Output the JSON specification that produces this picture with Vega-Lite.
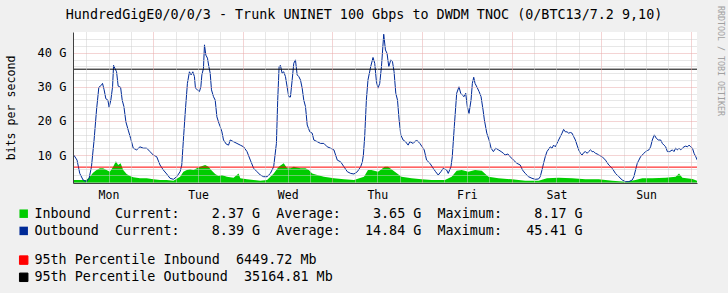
{
"$schema": "https://vega.github.io/schema/vega-lite/v6.json",
"width": 624, "height": 151,
"autosize": {"type": "none"},
"padding": {"left": 73, "top": 32, "right": 31, "bottom": 110},
"background": "#f0f0f0",
"view": {"fill": "#ffffff", "stroke": null},
"title": {"text": "HundredGigE0/0/0/3 - Trunk UNINET 100 Gbps to DWDM TNOC (0/BTC13/7.2 9,10)", "font": "DejaVu Sans Mono", "fontSize": 13.4, "fontWeight": "normal", "color": "#000000", "anchor": "middle", "frame": "group", "dx": -21, "offset": -26.6, "baseline": "alphabetic"},
"datasets": {
"inbound": [{"h":2.42,"v":2.67},{"h":4.30,"v":2.67},{"h":6.10,"v":2.67},{"h":6.99,"v":3.64},{"h":7.87,"v":4.81},{"h":8.79,"v":5.6},{"h":9.68,"v":6.1},{"h":10.56,"v":6.1},{"h":11.47,"v":5.6},{"h":12.36,"v":5.1},{"h":13.25,"v":6.57},{"h":13.98,"v":8.17},{"h":14.59,"v":7.07},{"h":15.24,"v":7.57},{"h":15.94,"v":5.6},{"h":16.85,"v":4.43},{"h":17.74,"v":3.84},{"h":18.63,"v":3.45},{"h":20.43,"v":3.17},{"h":22.23,"v":3.17},{"h":24.00,"v":2.87},{"h":25.80,"v":2.67},{"h":27.60,"v":2.67},{"h":29.38,"v":2.47},{"h":31.18,"v":3.64},{"h":32.06,"v":5.1},{"h":32.98,"v":5.6},{"h":33.86,"v":5.8},{"h":34.75,"v":5.6},{"h":35.66,"v":6.1},{"h":36.55,"v":6.57},{"h":37.90,"v":7.07},{"h":38.78,"v":6.57},{"h":39.70,"v":5.4},{"h":40.58,"v":4.43},{"h":41.47,"v":3.84},{"h":42.38,"v":4.13},{"h":43.73,"v":3.64},{"h":45.50,"v":3.35},{"h":46.85,"v":4.6},{"h":47.30,"v":3.17},{"h":49.10,"v":2.87},{"h":50.88,"v":2.67},{"h":52.68,"v":2.47},{"h":54.48,"v":2.67},{"h":56.25,"v":4.6},{"h":57.60,"v":6.57},{"h":58.94,"v":7.57},{"h":59.85,"v":6.1},{"h":60.74,"v":6.1},{"h":61.63,"v":6.57},{"h":63.43,"v":6.1},{"h":64.77,"v":6.1},{"h":65.66,"v":5.6},{"h":66.57,"v":4.6},{"h":67.92,"v":4.13},{"h":69.69,"v":3.64},{"h":72.38,"v":3.17},{"h":75.06,"v":2.87},{"h":77.75,"v":2.67},{"h":80.44,"v":3.64},{"h":81.51,"v":5.6},{"h":82.43,"v":5.6},{"h":84.20,"v":5.1},{"h":86.00,"v":6.57},{"h":86.89,"v":6.57},{"h":88.69,"v":5.1},{"h":90.49,"v":3.64},{"h":93.18,"v":3.17},{"h":95.87,"v":2.87},{"h":98.56,"v":2.67},{"h":102.13,"v":2.67},{"h":103.93,"v":3.64},{"h":105.27,"v":5.4},{"h":106.62,"v":5.6},{"h":108.39,"v":5.1},{"h":110.19,"v":5.6},{"h":111.99,"v":5.4},{"h":113.77,"v":3.64},{"h":116.45,"v":3.17},{"h":120.05,"v":2.87},{"h":123.63,"v":2.47},{"h":127.21,"v":2.47},{"h":129.46,"v":3.17},{"h":132.58,"v":3.35},{"h":136.18,"v":3.17},{"h":139.76,"v":2.87},{"h":143.33,"v":2.87},{"h":146.93,"v":2.47},{"h":150.51,"v":2.18},{"h":153.19,"v":2.67},{"h":154.99,"v":3.17},{"h":157.68,"v":3.17},{"h":161.26,"v":3.35},{"h":163.94,"v":3.64},{"h":164.83,"v":4.6},{"h":165.74,"v":3.35},{"h":168.43,"v":2.97},{"h":169.77,"v":2.37}],
"outbound": [{"h":2.42,"v":10.5},{"h":3.57,"v":8.5},{"h":4.30,"v":4.6},{"h":5.19,"v":2.67},{"h":6.10,"v":2.18},{"h":6.80,"v":3.17},{"h":7.44,"v":6.57},{"h":8.14,"v":14.4},{"h":8.79,"v":23.2},{"h":9.41,"v":29.85},{"h":10.13,"v":30.5},{"h":10.40,"v":31.0},{"h":10.83,"v":29.1},{"h":11.29,"v":26.5},{"h":11.83,"v":26.1},{"h":12.17,"v":24.0},{"h":12.63,"v":26.1},{"h":13.09,"v":30.0},{"h":13.36,"v":36.3},{"h":13.71,"v":35.4},{"h":14.16,"v":34.4},{"h":14.59,"v":30.2},{"h":15.24,"v":29.85},{"h":15.67,"v":26.1},{"h":16.13,"v":24.2},{"h":16.66,"v":19.7},{"h":17.28,"v":17.3},{"h":17.93,"v":14.9},{"h":18.63,"v":12.0},{"h":19.54,"v":11.5},{"h":20.43,"v":12.4},{"h":21.31,"v":12.0},{"h":22.23,"v":12.0},{"h":23.11,"v":11.0},{"h":24.00,"v":10.0},{"h":24.91,"v":9.5},{"h":25.80,"v":7.07},{"h":26.69,"v":5.6},{"h":27.60,"v":4.43},{"h":28.49,"v":3.17},{"h":29.38,"v":2.87},{"h":30.29,"v":3.64},{"h":31.18,"v":5.1},{"h":31.63,"v":7.07},{"h":32.06,"v":14.4},{"h":32.60,"v":23.2},{"h":33.14,"v":31.0},{"h":33.68,"v":34.4},{"h":34.13,"v":33.5},{"h":34.59,"v":34.4},{"h":35.02,"v":33.0},{"h":35.29,"v":29.6},{"h":35.83,"v":29.1},{"h":36.36,"v":28.6},{"h":36.74,"v":30.0},{"h":37.01,"v":33.5},{"h":37.44,"v":35.4},{"h":37.71,"v":42.3},{"h":38.08,"v":39.3},{"h":38.51,"v":38.4},{"h":38.89,"v":35.9},{"h":39.24,"v":34.0},{"h":39.59,"v":29.1},{"h":40.13,"v":27.1},{"h":40.58,"v":26.1},{"h":41.04,"v":21.2},{"h":41.58,"v":19.3},{"h":41.93,"v":18.3},{"h":42.38,"v":16.8},{"h":42.81,"v":14.4},{"h":43.54,"v":13.2},{"h":44.16,"v":12.9},{"h":44.61,"v":14.4},{"h":45.50,"v":13.9},{"h":46.41,"v":13.4},{"h":47.30,"v":12.9},{"h":48.19,"v":12.4},{"h":49.10,"v":11.0},{"h":49.99,"v":8.5},{"h":50.88,"v":6.1},{"h":51.79,"v":5.1},{"h":52.68,"v":4.13},{"h":53.56,"v":3.64},{"h":54.48,"v":3.64},{"h":55.36,"v":4.6},{"h":56.25,"v":6.57},{"h":56.98,"v":13.4},{"h":57.33,"v":26.1},{"h":57.70,"v":35.9},{"h":58.05,"v":36.3},{"h":58.51,"v":34.0},{"h":58.94,"v":34.4},{"h":59.40,"v":33.0},{"h":59.85,"v":30.0},{"h":60.28,"v":27.1},{"h":60.74,"v":27.0},{"h":61.20,"v":32.0},{"h":61.63,"v":36.9},{"h":62.08,"v":37.9},{"h":62.54,"v":33.5},{"h":62.97,"v":33.0},{"h":63.43,"v":32.0},{"h":63.88,"v":29.6},{"h":64.31,"v":26.1},{"h":64.77,"v":24.2},{"h":65.23,"v":18.8},{"h":65.93,"v":16.8},{"h":66.57,"v":16.4},{"h":67.00,"v":14.4},{"h":67.92,"v":13.9},{"h":68.80,"v":13.4},{"h":69.69,"v":13.4},{"h":70.60,"v":12.4},{"h":71.49,"v":12.0},{"h":72.38,"v":11.5},{"h":73.29,"v":8.5},{"h":74.18,"v":8.0},{"h":75.06,"v":6.57},{"h":75.98,"v":5.1},{"h":76.87,"v":4.6},{"h":77.75,"v":4.43},{"h":78.66,"v":5.1},{"h":79.55,"v":6.57},{"h":80.01,"v":8.0},{"h":80.28,"v":10.0},{"h":80.63,"v":15.4},{"h":81.08,"v":26.1},{"h":81.51,"v":32.0},{"h":82.24,"v":35.9},{"h":82.86,"v":38.6},{"h":83.32,"v":36.9},{"h":83.77,"v":31.5},{"h":84.20,"v":29.6},{"h":84.66,"v":31.0},{"h":85.12,"v":35.9},{"h":85.73,"v":45.41},{"h":86.19,"v":40.8},{"h":86.62,"v":39.8},{"h":87.08,"v":35.9},{"h":87.62,"v":37.9},{"h":88.07,"v":37.4},{"h":88.50,"v":34.4},{"h":88.96,"v":28.1},{"h":89.42,"v":26.1},{"h":89.85,"v":20.3},{"h":90.30,"v":15.9},{"h":90.92,"v":14.4},{"h":91.57,"v":13.9},{"h":92.27,"v":12.9},{"h":92.72,"v":13.9},{"h":93.61,"v":13.4},{"h":94.52,"v":14.4},{"h":95.41,"v":13.4},{"h":96.03,"v":12.4},{"h":96.57,"v":11.5},{"h":97.21,"v":8.5},{"h":98.10,"v":7.57},{"h":98.98,"v":6.1},{"h":99.63,"v":5.1},{"h":100.33,"v":4.13},{"h":101.05,"v":5.1},{"h":101.67,"v":6.1},{"h":102.58,"v":5.6},{"h":103.01,"v":4.6},{"h":103.74,"v":6.57},{"h":104.09,"v":9.5},{"h":104.63,"v":18.3},{"h":105.27,"v":28.1},{"h":105.89,"v":30.0},{"h":106.35,"v":28.1},{"h":106.78,"v":27.6},{"h":107.24,"v":27.1},{"h":107.69,"v":28.1},{"h":108.12,"v":24.2},{"h":108.58,"v":22.2},{"h":109.12,"v":26.1},{"h":109.47,"v":31.0},{"h":109.84,"v":32.8},{"h":110.19,"v":31.0},{"h":110.73,"v":29.85},{"h":111.27,"v":28.6},{"h":111.80,"v":27.1},{"h":112.34,"v":23.2},{"h":112.69,"v":20.3},{"h":113.34,"v":16.4},{"h":113.95,"v":14.4},{"h":114.49,"v":12.0},{"h":115.11,"v":11.0},{"h":115.75,"v":12.0},{"h":116.45,"v":11.5},{"h":117.18,"v":11.0},{"h":117.80,"v":10.5},{"h":118.25,"v":10.0},{"h":118.98,"v":10.3},{"h":119.60,"v":9.5},{"h":120.49,"v":8.5},{"h":121.40,"v":7.57},{"h":122.29,"v":7.07},{"h":122.91,"v":5.6},{"h":123.63,"v":4.6},{"h":124.52,"v":3.64},{"h":125.43,"v":3.17},{"h":126.32,"v":2.87},{"h":127.21,"v":2.97},{"h":127.66,"v":3.64},{"h":128.12,"v":5.6},{"h":128.55,"v":7.57},{"h":129.00,"v":9.5},{"h":129.46,"v":11.0},{"h":130.35,"v":12.4},{"h":130.80,"v":12.0},{"h":131.24,"v":12.9},{"h":131.69,"v":12.4},{"h":132.15,"v":13.4},{"h":132.58,"v":14.4},{"h":133.04,"v":15.4},{"h":133.49,"v":16.4},{"h":133.92,"v":17.5},{"h":134.38,"v":16.8},{"h":134.84,"v":16.8},{"h":135.27,"v":16.4},{"h":135.72,"v":16.6},{"h":136.18,"v":16.4},{"h":136.61,"v":15.4},{"h":137.07,"v":14.4},{"h":137.52,"v":12.9},{"h":137.95,"v":11.5},{"h":138.41,"v":10.5},{"h":138.87,"v":10.0},{"h":139.30,"v":10.7},{"h":139.76,"v":11.0},{"h":140.21,"v":10.5},{"h":140.64,"v":11.0},{"h":141.10,"v":11.5},{"h":141.56,"v":11.0},{"h":141.99,"v":11.0},{"h":142.44,"v":10.5},{"h":142.90,"v":10.3},{"h":143.33,"v":10.0},{"h":144.24,"v":9.5},{"h":145.13,"v":8.5},{"h":146.02,"v":7.07},{"h":146.93,"v":6.1},{"h":147.82,"v":4.6},{"h":148.70,"v":3.64},{"h":149.62,"v":2.67},{"h":150.51,"v":2.18},{"h":151.39,"v":2.18},{"h":152.30,"v":2.67},{"h":152.74,"v":3.64},{"h":153.19,"v":5.6},{"h":153.65,"v":7.57},{"h":154.08,"v":8.5},{"h":154.54,"v":9.5},{"h":154.99,"v":10.0},{"h":155.42,"v":10.5},{"h":155.88,"v":11.0},{"h":156.34,"v":11.3},{"h":156.77,"v":11.5},{"h":157.22,"v":12.4},{"h":157.68,"v":14.4},{"h":158.22,"v":15.9},{"h":158.75,"v":14.9},{"h":159.29,"v":14.4},{"h":159.91,"v":14.4},{"h":160.37,"v":13.4},{"h":160.80,"v":12.9},{"h":161.26,"v":12.4},{"h":161.71,"v":11.0},{"h":162.33,"v":11.0},{"h":163.05,"v":11.5},{"h":163.48,"v":11.0},{"h":163.94,"v":12.0},{"h":164.40,"v":11.5},{"h":164.83,"v":12.0},{"h":165.29,"v":11.5},{"h":165.74,"v":12.0},{"h":166.17,"v":12.4},{"h":166.63,"v":12.6},{"h":167.09,"v":12.4},{"h":167.52,"v":12.9},{"h":167.98,"v":12.4},{"h":168.43,"v":12.0},{"h":168.86,"v":10.5},{"h":169.32,"v":9.5},{"h":169.77,"v":8.39}],
"pct": [{"p":"95th Percentile Inbound\u00a0\u00a06449.72 Mb","v":6.44972},{"p":"95th Percentile Outbound\u00a0\u00a035164.81 Mb","v":35.16481}]
},
"resolve": {"scale": {"y": "independent"}, "axis": {"x": "independent"}},
"layer": [
{"data": {"name": "inbound"},
 "mark": {"type": "area", "opacity": 1, "clip": true},
 "encoding": {
  "x": {"field": "h", "type": "quantitative", "scale": {"domain": [2.49, 169.65], "nice": false, "zero": false},
   "axis": {"orient": "bottom", "values": [6,12,18,24,30,36,42,48,54,60,66,72,78,84,90,96,102,108,114,120,126,132,138,144,150,156,162,168],
    "labelExpr": "datum.value == 12 ? 'Mon' : datum.value == 36 ? 'Tue' : datum.value == 60 ? 'Wed' : datum.value == 84 ? 'Thu' : datum.value == 108 ? 'Fri' : datum.value == 132 ? 'Sat' : datum.value == 156 ? 'Sun' : ''",
    "labelAngle": 0, "labelFont": "DejaVu Sans Mono", "labelFontSize": 11.5, "labelColor": "#000000", "labelPadding": 6, "labelOverlap": false, "labelFlush": false,
    "ticks": false, "tickSize": 0, "title": null, "domainColor": "#404040", "grid": true,
    "gridColor": {"condition": {"test": "datum.value % 24 === 0", "value": "#e8a8a8"}, "value": "#cfcfcf"},
    "gridDash": [1,1], "gridOpacity": 1, "zindex": 1}},
  "y": {"field": "v", "type": "quantitative", "scale": {"domain": [1.79, 46.07], "nice": false, "zero": false},
   "axis": {"values": [2,4,6,8,10,12,14,16,18,20,22,24,26,28,30,32,34,36,38,40,42,44],
    "labelExpr": "datum.value % 10 === 0 ? datum.value + ' G' : ''",
    "labelFont": "DejaVu Sans Mono", "labelFontSize": 12, "labelColor": "#000000", "labelPadding": 7, "labelOverlap": false,
    "ticks": false, "tickSize": 0, "domainColor": "#404040", "grid": true,
    "gridColor": {"condition": {"test": "datum.value % 10 === 0", "value": "#e8a8a8"}, "value": "#cfcfcf"},
    "gridDash": [1,1], "gridOpacity": 1, "zindex": 1,
    "title": "bits per second", "titleFont": "DejaVu Sans Mono", "titleFontSize": 11.6, "titleFontWeight": "normal", "titleColor": "#000000", "titleX": -62, "titleBaseline": "middle"}},
  "fill": {"datum": "Inbound\u00a0\u00a0\u00a0Current:\u00a0\u00a0\u00a0\u00a02.37 G\u00a0\u00a0Average:\u00a0\u00a0\u00a0\u00a03.65 G\u00a0\u00a0Maximum:\u00a0\u00a0\u00a0\u00a08.17 G", "type": "nominal",
   "scale": {"domain": ["Inbound\u00a0\u00a0\u00a0Current:\u00a0\u00a0\u00a0\u00a02.37 G\u00a0\u00a0Average:\u00a0\u00a0\u00a0\u00a03.65 G\u00a0\u00a0Maximum:\u00a0\u00a0\u00a0\u00a08.17 G", "Outbound\u00a0\u00a0Current:\u00a0\u00a0\u00a0\u00a08.39 G\u00a0\u00a0Average:\u00a0\u00a0\u00a014.84 G\u00a0\u00a0Maximum:\u00a0\u00a0\u00a045.41 G"], "range": ["#00cc00", "#002a97"]},
   "legend": {"orient": "none", "legendX": -56, "legendY": 175, "title": null, "symbolType": "square", "symbolSize": 72, "labelFont": "DejaVu Sans Mono", "labelFontSize": 13.4, "labelColor": "#000000", "labelLimit": 800, "labelOffset": 4, "rowPadding": 2.2, "padding": 0,
    "encode": {"symbols": {"update": {"stroke": {"value": "#000000"}, "strokeWidth": {"value": 1}, "opacity": {"value": 1}}}}}}
 }},
{"data": {"name": "outbound"},
 "mark": {"type": "line", "color": "#002a97", "strokeWidth": 1, "clip": true},
 "encoding": {
  "x": {"field": "h", "type": "quantitative", "axis": null},
  "y": {"field": "v", "type": "quantitative", "scale": {"domain": [1.79, 46.07], "nice": false, "zero": false}, "axis": null}
 }},
{"data": {"name": "pct"},
 "mark": {"type": "rule", "strokeWidth": 1},
 "encoding": {
  "y": {"field": "v", "type": "quantitative", "scale": {"domain": [1.79, 46.07], "nice": false, "zero": false},
   "axis": {"orient": "right", "labels": false, "ticks": false, "domain": false, "grid": false,
    "title": "RRDTOOL / TOBI OETIKER", "titleFont": "DejaVu Sans Mono", "titleFontSize": 8.3, "titleFontWeight": "normal", "titleColor": "#a0a0a0", "titleAngle": 90, "titleX": 22.5, "titleY": 28.5, "titleBaseline": "middle", "titleAlign": "center"}},
  "stroke": {"field": "p", "type": "nominal",
   "scale": {"domain": ["95th Percentile Inbound\u00a0\u00a06449.72 Mb", "95th Percentile Outbound\u00a0\u00a035164.81 Mb"], "range": ["#ff0000", "#000000"]},
   "legend": {"orient": "none", "legendX": -56, "legendY": 221.4, "title": null, "symbolType": "square", "symbolSize": 72, "labelFont": "DejaVu Sans Mono", "labelFontSize": 13.4, "labelColor": "#000000", "labelLimit": 800, "labelOffset": 4, "rowPadding": 2.2, "padding": 0,
    "encode": {"symbols": {"update": {"fill": {"scale": "stroke", "field": "value"}, "stroke": {"value": "#000000"}, "strokeWidth": {"value": 1}, "opacity": {"value": 1}}}}}}
 }}
]
}
